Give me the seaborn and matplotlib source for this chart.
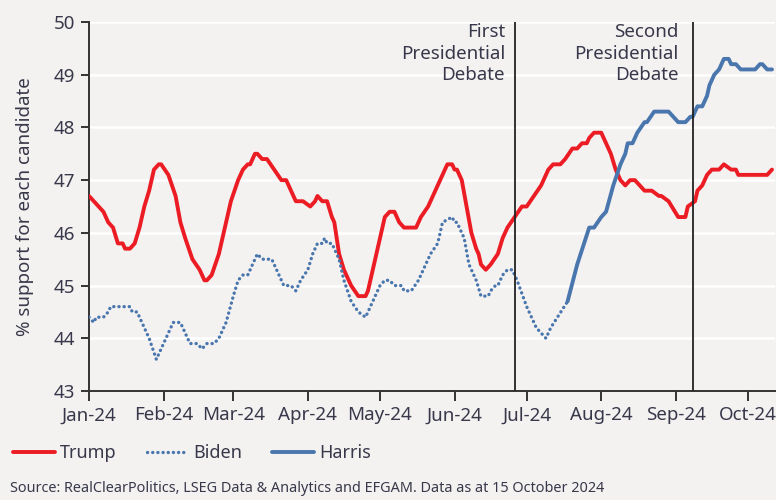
import pandas as pd
import matplotlib.pyplot as plt
import matplotlib.dates as mdates
import seaborn as sns

# Valores (media de encuestas, %)
trump_fechas = [
    "2024-01-01", "2024-01-03", "2024-01-05", "2024-01-07", "2024-01-09", "2024-01-11",
    "2024-01-13", "2024-01-15", "2024-01-16", "2024-01-18", "2024-01-20", "2024-01-22",
    "2024-01-24", "2024-01-26", "2024-01-28", "2024-01-30", "2024-01-31", "2024-02-03",
    "2024-02-06", "2024-02-08", "2024-02-10", "2024-02-13", "2024-02-16", "2024-02-18",
    "2024-02-19", "2024-02-21", "2024-02-24", "2024-02-27", "2024-02-29", "2024-03-03",
    "2024-03-05", "2024-03-07", "2024-03-08", "2024-03-10", "2024-03-11", "2024-03-13",
    "2024-03-15", "2024-03-18", "2024-03-21", "2024-03-23", "2024-03-25", "2024-03-27",
    "2024-03-30", "2024-04-02", "2024-04-04", "2024-04-05", "2024-04-07", "2024-04-09",
    "2024-04-11", "2024-04-12", "2024-04-14", "2024-04-16", "2024-04-19", "2024-04-22",
    "2024-04-25", "2024-04-26", "2024-04-28", "2024-05-01", "2024-05-03", "2024-05-05",
    "2024-05-07", "2024-05-09", "2024-05-11", "2024-05-16", "2024-05-18", "2024-05-21",
    "2024-05-23", "2024-05-25", "2024-05-27", "2024-05-29", "2024-05-31", "2024-06-01",
    "2024-06-02", "2024-06-04", "2024-06-06", "2024-06-08", "2024-06-10", "2024-06-11",
    "2024-06-12", "2024-06-14", "2024-06-16", "2024-06-19", "2024-06-21", "2024-06-23",
    "2024-06-26", "2024-06-29", "2024-07-01", "2024-07-04", "2024-07-07", "2024-07-10",
    "2024-07-12", "2024-07-15", "2024-07-17", "2024-07-20", "2024-07-22", "2024-07-24",
    "2024-07-26", "2024-07-27", "2024-07-29", "2024-08-01", "2024-08-03", "2024-08-05",
    "2024-08-07", "2024-08-09", "2024-08-11", "2024-08-13", "2024-08-15", "2024-08-17",
    "2024-08-19", "2024-08-22", "2024-08-25", "2024-08-26", "2024-08-29", "2024-09-02",
    "2024-09-05", "2024-09-06", "2024-09-09", "2024-09-10", "2024-09-12", "2024-09-14",
    "2024-09-16", "2024-09-19", "2024-09-21", "2024-09-24", "2024-09-26", "2024-09-27",
    "2024-10-01", "2024-10-08", "2024-10-09", "2024-10-11",
]
trump_valores = [
    46.7, 46.6, 46.5, 46.4, 46.2, 46.1,
    45.8, 45.8, 45.7, 45.7, 45.8, 46.1,
    46.5, 46.8, 47.2, 47.3, 47.3, 47.1,
    46.7, 46.2, 45.9, 45.5, 45.3, 45.1,
    45.1, 45.2, 45.6, 46.2, 46.6, 47.0,
    47.2, 47.3, 47.3, 47.5, 47.5, 47.4,
    47.4, 47.2, 47.0, 47.0, 46.8, 46.6,
    46.6, 46.5, 46.6, 46.7, 46.6, 46.6,
    46.3, 46.2, 45.6, 45.3, 45.0, 44.8,
    44.8, 44.9, 45.3, 45.9, 46.3, 46.4,
    46.4, 46.2, 46.1, 46.1, 46.3, 46.5,
    46.7, 46.9, 47.1, 47.3, 47.3, 47.2,
    47.2, 47.0, 46.5, 46.0, 45.7, 45.6,
    45.4, 45.3, 45.4, 45.6, 45.9, 46.1,
    46.3, 46.5, 46.5, 46.7, 46.9, 47.2,
    47.3, 47.3, 47.4, 47.6, 47.6, 47.7,
    47.7, 47.8, 47.9, 47.9, 47.7, 47.5,
    47.2, 47.0, 46.9, 47.0, 47.0, 46.9,
    46.8, 46.8, 46.7, 46.7, 46.6, 46.3,
    46.3, 46.5, 46.6, 46.8, 46.9, 47.1,
    47.2, 47.2, 47.3, 47.2, 47.2, 47.1,
    47.1, 47.1, 47.1, 47.2,
]

biden_fechas = [
    "2024-01-01", "2024-01-03", "2024-01-04", "2024-01-07", "2024-01-09", "2024-01-10",
    "2024-01-18", "2024-01-19", "2024-01-21", "2024-01-23", "2024-01-26", "2024-01-29",
    "2024-02-05", "2024-02-08", "2024-02-12", "2024-02-15", "2024-02-17", "2024-02-19",
    "2024-02-22", "2024-02-24", "2024-02-27", "2024-03-01", "2024-03-03", "2024-03-05",
    "2024-03-07", "2024-03-09", "2024-03-11", "2024-03-13", "2024-03-17", "2024-03-20",
    "2024-03-22", "2024-03-25", "2024-03-27", "2024-03-29", "2024-04-01", "2024-04-03",
    "2024-04-05", "2024-04-07", "2024-04-08", "2024-04-09", "2024-04-11", "2024-04-14",
    "2024-04-16", "2024-04-19", "2024-04-22", "2024-04-25", "2024-04-28", "2024-05-01",
    "2024-05-03", "2024-05-05", "2024-05-07", "2024-05-10", "2024-05-11", "2024-05-14",
    "2024-05-17", "2024-05-20", "2024-05-22", "2024-05-25", "2024-05-27", "2024-05-31",
    "2024-06-01", "2024-06-02", "2024-06-05", "2024-06-07", "2024-06-10", "2024-06-12",
    "2024-06-15", "2024-06-16", "2024-06-18", "2024-06-19", "2024-06-21", "2024-06-23",
    "2024-06-25", "2024-06-27", "2024-07-01", "2024-07-05", "2024-07-09", "2024-07-11",
    "2024-07-18",
]
biden_valores = [
    44.4, 44.3, 44.4, 44.4, 44.5, 44.6,
    44.6, 44.5, 44.5, 44.3, 44.0, 43.6,
    44.3, 44.3, 43.9, 43.9, 43.8, 43.9,
    43.9, 44.0, 44.3, 44.8, 45.1, 45.2,
    45.2, 45.4, 45.6, 45.5, 45.5, 45.2,
    45.0, 45.0, 44.9, 45.1, 45.3, 45.6,
    45.8, 45.8, 45.9, 45.8, 45.8, 45.5,
    45.1, 44.7, 44.5, 44.4, 44.7, 45.0,
    45.1, 45.1, 45.0, 45.0, 44.9, 44.9,
    45.1, 45.4, 45.6, 45.8, 46.2, 46.3,
    46.2, 46.2, 45.9, 45.4, 45.1, 44.8,
    44.8, 44.9, 45.0, 45.0, 45.2, 45.3,
    45.3, 45.1, 44.6, 44.2, 44.0, 44.2,
    44.7,
]

harris_fechas = [
    "2024-07-18", "2024-07-22", "2024-07-27", "2024-07-29", "2024-08-01", "2024-08-03",
    "2024-08-06", "2024-08-09", "2024-08-11", "2024-08-12", "2024-08-14", "2024-08-16",
    "2024-08-19", "2024-08-20", "2024-08-23", "2024-08-29", "2024-08-31", "2024-09-02",
    "2024-09-05", "2024-09-07", "2024-09-08", "2024-09-10", "2024-09-12", "2024-09-14",
    "2024-09-15", "2024-09-17", "2024-09-19", "2024-09-21", "2024-09-23", "2024-09-24",
    "2024-09-26", "2024-09-28", "2024-10-04", "2024-10-06", "2024-10-07", "2024-10-09",
    "2024-10-11",
]
harris_valores = [
    44.7, 45.4, 46.1, 46.1, 46.3, 46.4,
    46.9, 47.3, 47.5, 47.7, 47.7, 47.9,
    48.1, 48.1, 48.3, 48.3, 48.2, 48.1,
    48.1, 48.2, 48.2, 48.4, 48.4, 48.6,
    48.8, 49.0, 49.1, 49.3, 49.3, 49.2,
    49.2, 49.1, 49.1, 49.2, 49.2, 49.1,
    49.1,
]

debates_fechas = ["2024-06-26", "2024-09-08"]
debates_textos = ["First\nPresidential\nDebate", "Second\nPresidential\nDebate"]

meses = pd.date_range("2024-01-01", "2024-10-01", freq="MS")

# Colores
fondo = "#F3F2F1"
rojo = "#EC1C24"
azul = "#4A76AE"
texto = "#38384A"

sns.set_theme(style="white", rc={
    "axes.facecolor": fondo,
    "figure.facecolor": fondo,
    "axes.edgecolor": "#333333",
    "axes.linewidth": 1.4,
    "xtick.color": "#333333",
    "ytick.color": "#333333",
    "xtick.labelcolor": texto,
    "ytick.labelcolor": texto,
    "xtick.bottom": True,
    "ytick.left": True,
    "xtick.major.size": 7,
    "ytick.major.size": 6,
    "xtick.major.width": 1.4,
    "ytick.major.width": 1.4,
})
plt.rcParams["font.family"] = ["Noto Sans", "DejaVu Sans"]

fig, ax = plt.subplots(figsize=(7.76, 5), dpi=100)
fig.subplots_adjust(left=0.1147, right=0.9987, bottom=0.218, top=0.956)

df_trump = pd.DataFrame({"fecha": pd.to_datetime(trump_fechas), "valor": trump_valores})
df_biden = pd.DataFrame({"fecha": pd.to_datetime(biden_fechas), "valor": biden_valores})
df_harris = pd.DataFrame({"fecha": pd.to_datetime(harris_fechas), "valor": harris_valores})

sns.lineplot(data=df_trump, x="fecha", y="valor", ax=ax, color=rojo, lw=2.8,
             label="Trump", zorder=3)
sns.lineplot(data=df_biden, x="fecha", y="valor", ax=ax, color=azul, lw=2.4,
             linestyle=(0, (0.05, 1.5)), dash_capstyle="round", label="Biden", zorder=3)
sns.lineplot(data=df_harris, x="fecha", y="valor", ax=ax, color=azul, lw=2.8,
             label="Harris", zorder=3)

# Lineas verticales de los debates
desplaz = [-7, -10]
for f, t, d in zip(debates_fechas, debates_textos, desplaz):
    fd = pd.Timestamp(f)
    ax.axvline(fd, color="#222222", lw=1.3, zorder=4)
    ax.annotate(t, xy=(fd, 50), xytext=(d, -1), textcoords="offset points",
                ha="right", va="top", fontsize=13.5, color=texto, linespacing=1.25)

ax.set_ylim(43, 50)
ax.set_yticks(range(43, 51))
ax.set_xlim(pd.Timestamp("2024-01-01"), pd.Timestamp("2024-10-12 06:00"))
ax.set_xticks(meses)
ax.xaxis.set_major_formatter(mdates.DateFormatter("%b-%y"))
ax.tick_params(axis="both", labelsize=13.5, pad=4)

ax.yaxis.grid(True, color="white", lw=1.8)
ax.set_axisbelow(True)
sns.despine(ax=ax)

ax.set_xlabel("")
ax.set_ylabel("% support for each candidate", fontsize=13.5, color=texto, labelpad=14)

ax.legend_.remove()
h, l = ax.get_legend_handles_labels()
fig.legend(h, l, loc="center left", bbox_to_anchor=(-0.004, 0.094), ncol=3,
           frameon=False, fontsize=13, handlelength=2.3, handletextpad=0.3,
           columnspacing=1.65, labelcolor=texto)

fig.text(0.013, 0.016,
         "Source: RealClearPolitics, LSEG Data & Analytics and EFGAM. Data as at 15 October 2024",
         fontsize=10.4, color=texto, va="baseline")

fig.savefig("out.png", dpi=100, facecolor=fondo)
